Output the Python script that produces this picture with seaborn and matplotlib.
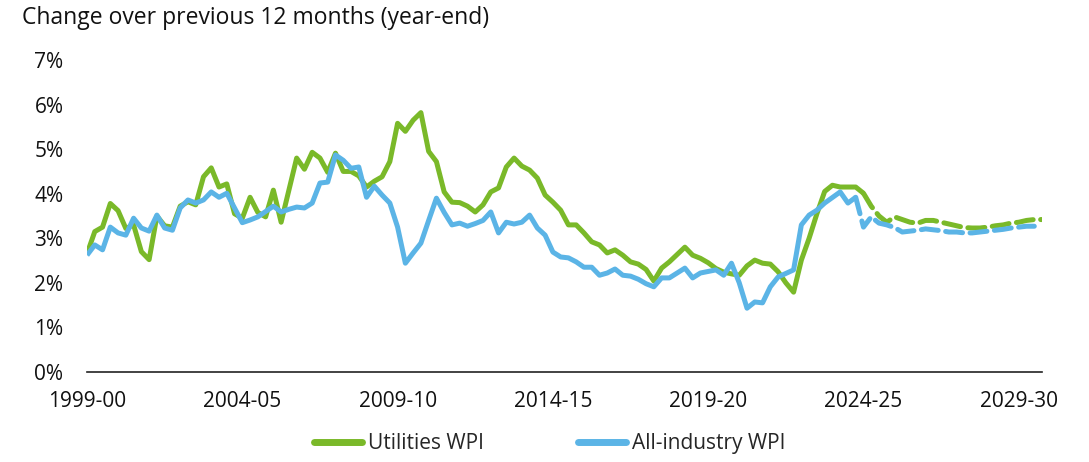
import pandas as pd
import matplotlib.pyplot as plt
from matplotlib.lines import Line2D
import seaborn as sns

# --- Data (financial years since 1999-00, quarterly readings) ---
util_years = [0.00, 0.25, 0.50, 0.75, 1.00, 1.25, 1.50, 1.75, 2.00, 2.25, 2.50, 2.75,
              3.00, 3.25, 3.50, 3.75, 4.00, 4.25, 4.50, 4.75, 5.00, 5.25, 5.50, 5.75,
              6.00, 6.25, 6.75, 7.00, 7.25, 7.50, 7.75, 8.00, 8.25, 8.50, 8.75, 9.00,
              9.25, 9.50, 9.75, 10.00, 10.25, 10.50, 10.75, 11.00, 11.25, 11.50, 11.75,
              12.00, 12.25, 12.50, 12.75, 13.00, 13.25, 13.50, 13.75, 14.00, 14.25, 14.50,
              14.75, 15.00, 15.25, 15.50, 15.75, 16.00, 16.25, 16.50, 16.75, 17.00, 17.25,
              17.50, 17.75, 18.00, 18.25, 18.50, 18.75, 19.25, 19.50, 19.75, 20.00, 20.25,
              20.50, 20.75, 21.00, 21.25, 21.50, 21.75, 22.00, 22.25, 22.50, 22.75, 23.00,
              23.25, 23.50, 23.75, 24.00, 24.25, 24.50, 24.75, 25.00]
util_values = [2.65, 3.15, 3.25, 3.78, 3.62, 3.22, 3.30, 2.70, 2.52, 3.50, 3.28, 3.25,
               3.72, 3.82, 3.75, 4.38, 4.58, 4.15, 4.22, 3.55, 3.45, 3.92, 3.58, 3.48,
               4.08, 3.36, 4.80, 4.55, 4.93, 4.80, 4.48, 4.91, 4.50, 4.50, 4.40, 4.15,
               4.28, 4.38, 4.72, 5.58, 5.40, 5.65, 5.82, 4.95, 4.72, 4.04, 3.81,
               3.80, 3.72, 3.59, 3.75, 4.04, 4.13, 4.60, 4.80, 4.62, 4.53, 4.35,
               3.97, 3.81, 3.63, 3.30, 3.30, 3.12, 2.92, 2.85, 2.67, 2.74, 2.62,
               2.47, 2.42, 2.30, 2.04, 2.33, 2.47, 2.80, 2.62, 2.55, 2.45, 2.32,
               2.24, 2.20, 2.17, 2.38, 2.51, 2.44, 2.42, 2.25, 2.00, 1.79, 2.51,
               3.00, 3.55, 4.05, 4.19, 4.15, 4.15, 4.15, 4.01]

util_fc_years = [25.00, 25.25, 25.50, 25.75, 26.00, 26.25, 26.50, 26.75, 27.00, 27.25,
                 27.50, 27.75, 28.00, 28.25, 28.50, 28.75, 29.00, 29.25, 29.50, 29.75,
                 30.00, 30.25, 30.50, 30.75]
util_fc_values = [4.01, 3.72, 3.50, 3.36, 3.48, 3.42, 3.36, 3.34, 3.40, 3.40,
                  3.36, 3.32, 3.28, 3.24, 3.23, 3.23, 3.25, 3.28, 3.30, 3.34,
                  3.36, 3.40, 3.42, 3.42]

all_years = [0.00, 0.25, 0.50, 0.75, 1.00, 1.25, 1.50, 1.75, 2.00, 2.25, 2.50, 2.75,
             3.00, 3.25, 3.50, 3.75, 4.00, 4.25, 4.50, 4.75, 5.00, 5.25, 5.50,
             6.00, 6.25, 6.50, 6.75, 7.00, 7.25, 7.50, 7.75, 8.00, 8.25, 8.50, 8.75,
             9.00, 9.25, 9.50, 9.75, 10.00, 10.25, 10.50, 10.75, 11.00, 11.25, 11.50,
             11.75, 12.00, 12.25, 12.50, 12.75, 13.00, 13.25, 13.50, 13.75, 14.00, 14.25,
             14.50, 14.75, 15.00, 15.25, 15.50, 15.75, 16.00, 16.25, 16.50, 16.75, 17.00,
             17.25, 17.50, 17.75, 18.00, 18.25, 18.50, 18.75, 19.25, 19.50, 19.75, 20.25,
             20.50, 20.75, 21.00, 21.25, 21.50, 21.75, 22.00, 22.25, 22.75, 23.00, 23.25,
             23.50, 23.75, 24.25, 24.50, 24.75]
all_values = [2.62, 2.85, 2.74, 3.25, 3.12, 3.07, 3.45, 3.23, 3.16, 3.52, 3.23, 3.18,
              3.68, 3.86, 3.79, 3.86, 4.04, 3.92, 4.01, 3.68, 3.35, 3.41, 3.48,
              3.72, 3.59, 3.65, 3.70, 3.68, 3.79, 4.24, 4.26, 4.87, 4.75, 4.57, 4.60,
              3.92, 4.17, 3.97, 3.79, 3.25, 2.44, 2.67, 2.89, 3.40, 3.90, 3.58,
              3.30, 3.34, 3.27, 3.33, 3.40, 3.59, 3.12, 3.36, 3.32, 3.36, 3.52,
              3.23, 3.07, 2.69, 2.58, 2.56, 2.47, 2.35, 2.35, 2.17, 2.22, 2.31,
              2.17, 2.15, 2.08, 1.98, 1.91, 2.11, 2.11, 2.33, 2.11, 2.22, 2.29,
              2.17, 2.44, 2.00, 1.43, 1.57, 1.55, 1.91, 2.13, 2.29, 3.30, 3.52,
              3.63, 3.79, 4.04, 3.79, 3.92]

all_fc_years = [24.75, 25.00, 25.25, 25.50, 25.75, 26.00, 26.25, 26.50, 26.75, 27.00,
                27.25, 27.50, 27.75, 28.00, 28.25, 28.50, 28.75, 29.00, 29.25, 29.50,
                29.75, 30.00, 30.25, 30.50]
all_fc_values = [3.92, 3.25, 3.48, 3.34, 3.30, 3.24, 3.14, 3.16, 3.18, 3.21,
                 3.19, 3.17, 3.14, 3.14, 3.12, 3.12, 3.14, 3.16, 3.18, 3.20,
                 3.23, 3.25, 3.27, 3.27]

FIRST_FY = 1999
tick_years = list(range(0, 31))
label_years = list(range(0, 31, 5))

GREEN = '#7ab929'
BLUE = '#5bb4e6'
TEXT = '#111111'


def build_frame():
    parts = [
        ('Utilities WPI', 'Actual', util_years, util_values),
        ('Utilities WPI', 'Forecast', util_fc_years, util_fc_values),
        ('All-industry WPI', 'Actual', all_years, all_values),
        ('All-industry WPI', 'Forecast', all_fc_years, all_fc_values),
    ]
    frames = []
    for name, kind, yrs, vals in parts:
        frames.append(pd.DataFrame({'year': yrs, 'value': vals, 'series': name, 'kind': kind}))
    return pd.concat(frames, ignore_index=True)


def fy_label(y):
    start = FIRST_FY + y
    return f"{start}-{(start + 1) % 100:02d}"


def main():
    sns.set_theme(style="white")
    plt.rcParams['font.family'] = ['Open Sans', 'DejaVu Sans']

    df = build_frame()

    fig = plt.figure(figsize=(10.89, 4.62), dpi=100)
    ax = fig.add_axes([0.0799, 0.195, 0.877, 0.675])

    sns.lineplot(data=df, x='year', y='value', hue='series', style='kind',
                 palette={'Utilities WPI': GREEN, 'All-industry WPI': BLUE},
                 dashes={'Actual': '', 'Forecast': (3.4, 1.5)},
                 hue_order=['Utilities WPI', 'All-industry WPI'],
                 estimator=None, sort=False, linewidth=3.6, legend=False, ax=ax)
    for line in ax.get_lines():
        line.set_solid_capstyle('butt')
        line.set_dash_capstyle('round')

    ax.set_xlim(0, 30.75)
    ax.set_ylim(0, 7)
    ax.set_yticks(range(0, 8))
    ax.set_yticklabels([f"{v}%" for v in range(0, 8)], fontsize=15, color=TEXT)
    ax.set_xticks(tick_years)
    ax.set_xticklabels([fy_label(y) if y in label_years else '' for y in tick_years],
                       fontsize=15, color=TEXT)
    ax.tick_params(axis='x', direction='out', length=6, width=1.2, color='#222222', pad=8)
    ax.tick_params(axis='y', length=0, pad=17)
    ax.set_xlabel('')
    ax.set_ylabel('')

    for side in ['top', 'right', 'left']:
        ax.spines[side].set_visible(False)
    ax.spines['bottom'].set_color('#222222')
    ax.spines['bottom'].set_linewidth(1.2)

    fig.text(0.02, 0.962, 'Change over previous 12 months (year-end)',
             fontsize=16.5, color=TEXT, va='center', ha='left')

    handles = [Line2D([0], [0], color=GREEN, lw=5),
               Line2D([0], [0], color=BLUE, lw=5)]
    fig.legend(handles, ['Utilities WPI', 'All-industry WPI'], loc='center',
               bbox_to_anchor=(0.505, 0.04), ncol=2, frameon=False, fontsize=15,
               handlelength=2.3, handletextpad=0.3, columnspacing=4.5)

    fig.savefig('out.png', dpi=100)
    plt.close(fig)


if __name__ == "__main__":
    main()
